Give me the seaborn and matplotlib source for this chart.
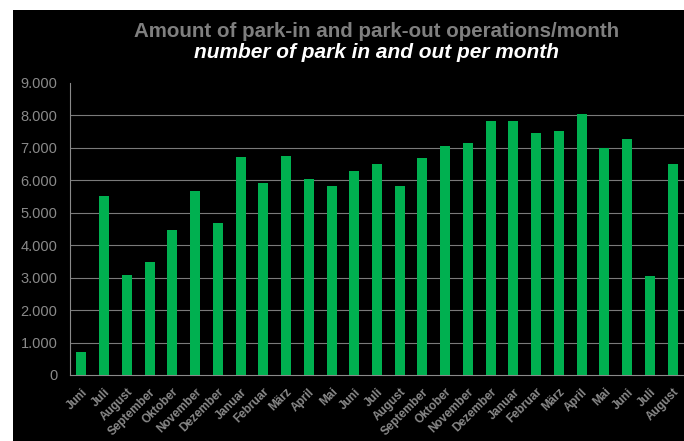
import matplotlib
matplotlib.use("Agg")
import matplotlib.pyplot as plt
import matplotlib.ticker as mticker
from matplotlib.patches import Rectangle
import pandas as pd
import seaborn as sns

months = ["Juni", "Juli", "August", "September", "Oktober", "November", "Dezember",
          "Januar", "Februar", "März", "April", "Mai", "Juni", "Juli", "August",
          "September", "Oktober", "November", "Dezember", "Januar", "Februar",
          "März", "April", "Mai", "Juni", "Juli", "August"]
operations = [700, 5520, 3090, 3490, 4470, 5660, 4690, 6720, 5910, 6760, 6050,
              5830, 6300, 6510, 5820, 6680, 7060, 7160, 7830, 7830, 7460, 7530,
              8030, 6990, 7280, 3060, 6510]

df = pd.DataFrame({"pos": range(len(months)), "month": months, "ops": operations})

grey = "#8a8a8a"
green = "#00b050"

sns.set_style("dark")
plt.rcParams["font.family"] = ["Liberation Sans", "DejaVu Sans"]

fig = plt.figure(figsize=(6.84, 4.41), dpi=100, facecolor="white")
# black background panel (white margin on left/top like the screenshot)
fig.patches.append(Rectangle((13 / 684, 0), 1, 1 - 10 / 441, transform=fig.transFigure,
                             facecolor="black", edgecolor="none", zorder=-10))
ax = fig.add_axes([70 / 684, 66 / 441, 614 / 684, 292 / 441])
ax.set_facecolor("black")

sns.barplot(data=df, x="pos", y="ops", color=green, width=0.44, saturation=1,
            linewidth=0, ax=ax, zorder=3)

ax.set_ylim(0, 9000)
ax.set_xlim(-0.5, len(months) - 0.5)
ax.yaxis.set_major_locator(mticker.MultipleLocator(1000))
ax.yaxis.set_major_formatter(mticker.FuncFormatter(lambda v, p: f"{int(v):,}".replace(",", ".")))

# grid lines at 1.000 .. 8.000
for v in range(1000, 9000, 1000):
    ax.axhline(v, color="#7a7a7a", lw=0.8, zorder=1)

ax.set_xticks(range(len(months)))
ax.set_xticklabels(months, rotation=45, ha="right", rotation_mode="anchor")
ax.set_xticks([i - 0.5 for i in range(len(months) + 1)], minor=True)
ax.tick_params(axis="x", which="major", length=0, pad=8, labelsize=8.5, colors=grey)
ax.tick_params(axis="x", which="minor", length=3, direction="out", color=grey, width=0.8)
ax.tick_params(axis="y", length=5, direction="out", color=grey, width=0.8,
               labelsize=10.5, labelcolor=grey, pad=4)
for lab in ax.get_xticklabels():
    lab.set_fontweight("bold")

ax.set_xlabel("")
ax.set_ylabel("")
ax.grid(False)
for side in ["top", "right"]:
    ax.spines[side].set_visible(False)
for side in ["left", "bottom"]:
    ax.spines[side].set_visible(True)
    ax.spines[side].set_color(grey)
    ax.spines[side].set_linewidth(0.8)

cx = (70 + 684) / 2 / 684
fig.text(cx, 1 - 37 / 441, "Amount of park-in and park-out operations/month",
         ha="center", va="baseline", fontsize=14.8, fontweight="bold", color="#7f7f7f")
fig.text(cx, 1 - 58 / 441, "number of park in and out per month",
         ha="center", va="baseline", fontsize=15, fontweight="bold", style="italic",
         color="white")

fig.savefig("out.png", dpi=100, facecolor="white")
